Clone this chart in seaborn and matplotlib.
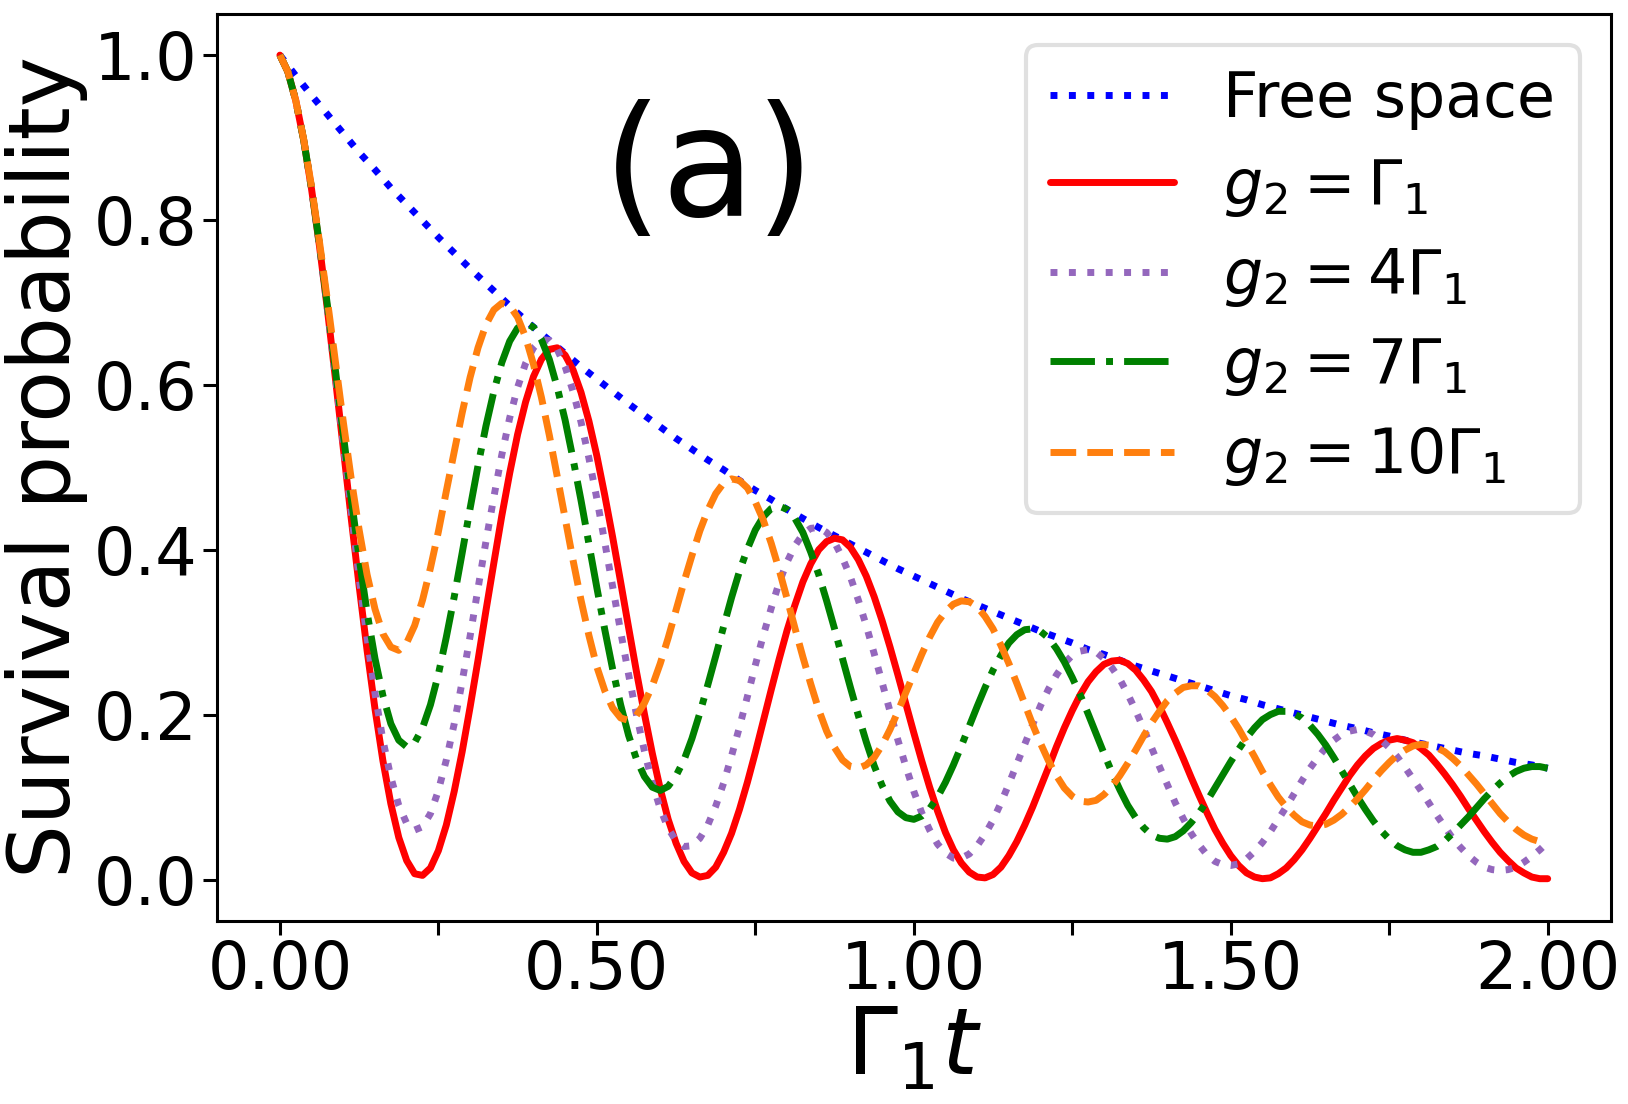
import numpy as np
import seaborn as sns
import matplotlib
matplotlib.use("Agg")
import matplotlib.pyplot as plt

# sampling grids in units of Gamma_1 t
t = np.linspace(0, 2, 81)
t_fine = np.linspace(0, 2, 161)

# survival probability
free_space = [1.000, 0.975, 0.951, 0.928, 0.905, 0.882, 0.861, 0.839, 0.819, 0.799,
              0.779, 0.760, 0.741, 0.723, 0.705, 0.687, 0.670, 0.654, 0.638, 0.622,
              0.607, 0.592, 0.577, 0.563, 0.549, 0.535, 0.522, 0.509, 0.497, 0.484,
              0.472, 0.461, 0.449, 0.438, 0.427, 0.417, 0.407, 0.397, 0.387, 0.377,
              0.368, 0.359, 0.350, 0.341, 0.333, 0.325, 0.317, 0.309, 0.301, 0.294,
              0.287, 0.279, 0.273, 0.266, 0.259, 0.253, 0.247, 0.241, 0.235, 0.229,
              0.223, 0.218, 0.212, 0.207, 0.202, 0.197, 0.192, 0.187, 0.183, 0.178,
              0.174, 0.169, 0.165, 0.161, 0.157, 0.153, 0.150, 0.146, 0.142, 0.139,
              0.135]

g2_1 = [1.000, 0.980, 0.945, 0.897, 0.837, 0.768, 0.691, 0.608, 0.523, 0.438,
        0.356, 0.278, 0.207, 0.144, 0.092, 0.051, 0.023, 0.007, 0.005, 0.014,
        0.035, 0.066, 0.107, 0.155, 0.209, 0.266, 0.326, 0.384, 0.441, 0.493,
        0.540, 0.579, 0.610, 0.631, 0.643, 0.645, 0.636, 0.618, 0.591, 0.556,
        0.514, 0.466, 0.415, 0.361, 0.306, 0.252, 0.201, 0.153, 0.110, 0.073,
        0.044, 0.022, 0.008, 0.003, 0.005, 0.015, 0.033, 0.056, 0.085, 0.118,
        0.154, 0.192, 0.230, 0.267, 0.302, 0.333, 0.361, 0.383, 0.400, 0.410,
        0.414, 0.412, 0.403, 0.388, 0.368, 0.343, 0.314, 0.282, 0.248, 0.213,
        0.178, 0.144, 0.112, 0.083, 0.057, 0.036, 0.020, 0.009, 0.003, 0.002,
        0.006, 0.015, 0.029, 0.046, 0.066, 0.088, 0.112, 0.136, 0.161, 0.184,
        0.205, 0.224, 0.240, 0.252, 0.261, 0.265, 0.266, 0.262, 0.254, 0.242,
        0.228, 0.210, 0.190, 0.169, 0.147, 0.124, 0.102, 0.081, 0.061, 0.044,
        0.029, 0.017, 0.008, 0.003, 0.001, 0.002, 0.007, 0.014, 0.024, 0.036,
        0.050, 0.065, 0.080, 0.096, 0.111, 0.126, 0.139, 0.150, 0.159, 0.165,
        0.169, 0.171, 0.169, 0.166, 0.159, 0.151, 0.140, 0.128, 0.115, 0.101,
        0.086, 0.072, 0.058, 0.045, 0.033, 0.023, 0.014, 0.008, 0.003, 0.001,
        0.001]

g2_4 = [1.000, 0.980, 0.945, 0.897, 0.838, 0.768, 0.692, 0.611, 0.528, 0.446,
        0.366, 0.293, 0.226, 0.169, 0.124, 0.090, 0.068, 0.060, 0.064, 0.080,
        0.108, 0.145, 0.189, 0.240, 0.295, 0.353, 0.410, 0.464, 0.515, 0.560,
        0.597, 0.626, 0.645, 0.655, 0.654, 0.643, 0.622, 0.592, 0.555, 0.511,
        0.462, 0.409, 0.355, 0.301, 0.249, 0.200, 0.156, 0.117, 0.086, 0.062,
        0.047, 0.040, 0.041, 0.050, 0.066, 0.089, 0.117, 0.150, 0.185, 0.222,
        0.260, 0.296, 0.329, 0.360, 0.385, 0.405, 0.419, 0.426, 0.427, 0.421,
        0.409, 0.390, 0.367, 0.339, 0.308, 0.274, 0.239, 0.204, 0.169, 0.137,
        0.107, 0.081, 0.060, 0.043, 0.032, 0.026, 0.026, 0.031, 0.041, 0.055,
        0.072, 0.093, 0.116, 0.140, 0.164, 0.188, 0.211, 0.231, 0.248, 0.262,
        0.272, 0.277, 0.279, 0.276, 0.268, 0.257, 0.243, 0.225, 0.205, 0.183,
        0.160, 0.137, 0.115, 0.093, 0.074, 0.056, 0.042, 0.030, 0.022, 0.018,
        0.017, 0.019, 0.025, 0.034, 0.045, 0.058, 0.073, 0.088, 0.104, 0.120,
        0.135, 0.148, 0.160, 0.169, 0.176, 0.180, 0.182, 0.180, 0.176, 0.169,
        0.160, 0.149, 0.136, 0.122, 0.108, 0.093, 0.078, 0.064, 0.050, 0.039,
        0.029, 0.021, 0.015, 0.012, 0.011, 0.012, 0.015, 0.021, 0.028, 0.036,
        0.045]

g2_7 = [1.000, 0.980, 0.945, 0.897, 0.838, 0.770, 0.696, 0.618, 0.539, 0.462,
        0.390, 0.324, 0.268, 0.223, 0.189, 0.169, 0.161, 0.166, 0.184, 0.212,
        0.249, 0.294, 0.343, 0.396, 0.450, 0.502, 0.550, 0.592, 0.627, 0.653,
        0.669, 0.675, 0.670, 0.655, 0.631, 0.597, 0.557, 0.510, 0.460, 0.407,
        0.354, 0.303, 0.255, 0.212, 0.175, 0.146, 0.125, 0.112, 0.108, 0.113,
        0.126, 0.145, 0.171, 0.202, 0.236, 0.271, 0.307, 0.342, 0.374, 0.401,
        0.424, 0.440, 0.450, 0.453, 0.449, 0.438, 0.421, 0.397, 0.370, 0.338,
        0.304, 0.268, 0.233, 0.199, 0.167, 0.138, 0.114, 0.095, 0.082, 0.075,
        0.073, 0.077, 0.086, 0.100, 0.118, 0.139, 0.162, 0.186, 0.210, 0.233,
        0.254, 0.272, 0.287, 0.297, 0.303, 0.304, 0.301, 0.293, 0.280, 0.264,
        0.245, 0.224, 0.201, 0.177, 0.153, 0.130, 0.109, 0.090, 0.075, 0.063,
        0.054, 0.050, 0.049, 0.052, 0.059, 0.069, 0.081, 0.095, 0.111, 0.127,
        0.143, 0.158, 0.172, 0.184, 0.194, 0.200, 0.204, 0.204, 0.201, 0.196,
        0.187, 0.176, 0.163, 0.148, 0.132, 0.116, 0.100, 0.085, 0.071, 0.059,
        0.049, 0.041, 0.036, 0.033, 0.033, 0.036, 0.040, 0.047, 0.056, 0.066,
        0.076, 0.087, 0.098, 0.108, 0.117, 0.125, 0.131, 0.135, 0.137, 0.137,
        0.135]

g2_10 = [1.000, 0.980, 0.945, 0.898, 0.840, 0.773, 0.702, 0.628, 0.555, 0.486,
         0.424, 0.370, 0.328, 0.298, 0.282, 0.278, 0.287, 0.308, 0.339, 0.378,
         0.422, 0.471, 0.519, 0.566, 0.609, 0.645, 0.673, 0.691, 0.699, 0.696,
         0.682, 0.658, 0.625, 0.585, 0.539, 0.489, 0.438, 0.387, 0.339, 0.296,
         0.258, 0.229, 0.208, 0.196, 0.193, 0.199, 0.214, 0.235, 0.262, 0.293,
         0.327, 0.361, 0.393, 0.423, 0.448, 0.468, 0.481, 0.486, 0.484, 0.475,
         0.458, 0.436, 0.408, 0.376, 0.341, 0.305, 0.270, 0.237, 0.206, 0.180,
         0.160, 0.145, 0.137, 0.135, 0.139, 0.148, 0.163, 0.182, 0.204, 0.227,
         0.250, 0.273, 0.294, 0.312, 0.325, 0.334, 0.338, 0.337, 0.331, 0.319,
         0.304, 0.284, 0.262, 0.238, 0.213, 0.188, 0.165, 0.144, 0.126, 0.111,
         0.101, 0.095, 0.094, 0.096, 0.103, 0.113, 0.126, 0.141, 0.157, 0.174,
         0.190, 0.204, 0.217, 0.226, 0.233, 0.235, 0.235, 0.230, 0.222, 0.211,
         0.198, 0.183, 0.166, 0.149, 0.131, 0.115, 0.100, 0.088, 0.078, 0.070,
         0.066, 0.065, 0.067, 0.072, 0.079, 0.088, 0.098, 0.109, 0.121, 0.132,
         0.142, 0.151, 0.157, 0.162, 0.164, 0.163, 0.160, 0.155, 0.147, 0.138,
         0.127, 0.116, 0.104, 0.092, 0.080, 0.070, 0.061, 0.054, 0.049, 0.046,
         0.045]

labels = ["Free space", r"$g_2 = \Gamma_1$", r"$g_2 = 4\Gamma_1$",
          r"$g_2 = 7\Gamma_1$", r"$g_2 = 10\Gamma_1$"]
colors = ["blue", "red", "tab:purple", "green", "tab:orange"]
styles = [":", "-", ":", "-.", "--"]

xtick_vals = [0.0, 0.25, 0.5, 0.75, 1.0, 1.25, 1.5, 1.75, 2.0]
xtick_labels = ["0.00", "", "0.50", "", "1.00", "", "1.50", "", "2.00"]
ytick_vals = [0.0, 0.2, 0.4, 0.6, 0.8, 1.0]

sns.set_style("ticks", {"axes.edgecolor": "black", "xtick.color": "black",
                        "ytick.color": "black", "text.color": "black",
                        "axes.labelcolor": "black"})
plt.rcParams["font.family"] = ["DejaVu Sans"]
plt.rcParams["mathtext.fontset"] = "dejavusans"

fig = plt.figure(figsize=(16.28, 11.04), dpi=100)
ax = fig.add_axes([0.133, 0.166, 0.8566, 0.8214])

series = [(t, free_space), (t_fine, g2_1), (t_fine, g2_4), (t_fine, g2_7), (t_fine, g2_10)]
for (x, y), lab, c, ls in zip(series, labels, colors, styles):
    sns.lineplot(x=x, y=y, ax=ax, color=c, linestyle=ls, linewidth=5, label=lab,
                 solid_joinstyle="round")

ax.set_xlim(-0.1, 2.1)
ax.set_ylim(-0.05, 1.05)
ax.set_xticks(xtick_vals)
ax.set_xticklabels(xtick_labels)
ax.set_yticks(ytick_vals)
ax.set_yticklabels([f"{v:.1f}" for v in ytick_vals])
ax.tick_params(labelsize=47, length=10, width=2.2, direction="out")
for sp in ax.spines.values():
    sp.set_linewidth(2.2)

ax.set_xlabel(r"$\Gamma_1 t$", fontsize=66, labelpad=0)
ax.set_ylabel("Survival probability", fontsize=61)

ax.text(0.677, 0.856, "(a)", fontsize=110, ha="center", va="center")

leg = ax.legend(loc="upper right", fontsize=44.5, frameon=True, fancybox=True,
                framealpha=0.8, edgecolor="0.85", labelspacing=0.44)
leg.get_frame().set_linewidth(3)

fig.savefig("out.png", dpi=100)
